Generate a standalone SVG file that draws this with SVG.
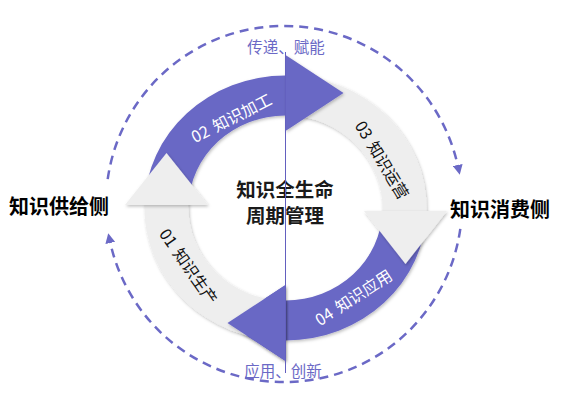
<svg xmlns="http://www.w3.org/2000/svg" xmlns:xlink="http://www.w3.org/1999/xlink" width="569" height="404" viewBox="0 0 569 404">
  <style>
    .purple { fill: #6967c5; }
    .gray { fill: #eeeeee; }
    .shadow { filter: url(#sh); }
    .arc-label { font-family: "Noto Sans CJK SC", "Liberation Sans", sans-serif; font-size: 16px; }
    .white { fill: #ffffff; }
    .dark { fill: #111111; }
    .center-title { font-family: "Noto Sans CJK SC", sans-serif; font-size: 19.5px; font-weight: bold; fill: #1a1a1a; }
    .side { font-family: "Noto Sans CJK SC", sans-serif; font-size: 20px; font-weight: bold; fill: #000000; }
    .flow-label { font-family: "Noto Sans CJK SC", sans-serif; font-size: 15.5px; fill: #6b69c6; }
    .dash { fill: none; stroke: #6b69c6; stroke-width: 2.5; stroke-dasharray: 9 6; }
  </style>
  <defs>
    <filter id="sh" x="-20%" y="-20%" width="140%" height="140%">
      <feDropShadow dx="1" dy="1.5" stdDeviation="1.5" flood-color="#000000" flood-opacity="0.25"/>
    </filter>
    <marker id="arr" viewBox="0 0 10 10" refX="2" refY="5" markerWidth="10" markerHeight="10" markerUnits="userSpaceOnUse" orient="auto">
      <path d="M0,0 L10,5 L0,10 Z" fill="#6b69c6"/>
    </marker>
  </defs>
  <rect width="569" height="404" fill="#ffffff"/>

  <g id="connectors">
    <path class="dash" d="M 107.7 179.2 A 178 178 0 0 1 458.1 167.0" marker-end="url(#arr)"/>
    <path class="dash" d="M 460.3 228.8 A 178 178 0 0 1 109.9 241.0" marker-end="url(#arr)"/>
  </g>

  <g id="node-04">
    <path class="purple shadow" d="M 426.5 211 A 141 132.5 0 0 1 285.5 340.5 L 285.5 300.5 A 97 92.5 0 0 0 382.5 211 Z"/>
    <polygon id="head04" class="purple shadow" points="285.5,285 227.5,323 285.5,361"/>
    <text class="arc-label white" text-anchor="middle" transform="translate(353.5,297.5) rotate(-33)" y="6">04<tspan dx="6">知识应用</tspan></text>
  </g>

  <g id="node-03">
    <path class="gray shadow" d="M 285.5 75.5 A 141 132.5 0 0 1 426.5 211 L 382.5 211 A 97 92.5 0 0 0 285.5 115.5 Z"/>
    <polygon class="gray shadow" points="364,211 447,211 405.5,264"/>
    <text class="arc-label dark" text-anchor="middle" transform="translate(382,160) rotate(59)" y="6">03<tspan dx="6">知识运营</tspan></text>
  </g>

  <g id="node-02">
    <path class="purple shadow" d="M 144.5 205 A 141 132.5 0 0 1 285.5 75.5 L 285.5 115.5 A 97 92.5 0 0 0 188.5 205 Z"/>
    <polygon class="purple shadow" points="285.5,55 343.5,93 285.5,131"/>
    <text class="arc-label white" text-anchor="middle" transform="translate(231.5,118) rotate(-27)" y="6">02<tspan dx="6">知识加工</tspan></text>
  </g>

  <g id="node-01">
    <path class="gray shadow" d="M 285.5 340.5 A 141 132.5 0 0 1 144.5 205 L 188.5 205 A 97 92.5 0 0 0 285.5 300.5 Z"/>
    <polygon class="gray shadow" points="125,205 208,205 166.5,153"/>
    <text class="arc-label dark" text-anchor="middle" transform="translate(188.5,266.5) rotate(55)" y="6">01<tspan dx="6">知识生产</tspan></text>
  </g>

  <g id="node-04-head-top">
    <use xlink:href="#head04" href="#head04"/>
  </g>

  <g id="center">
    <text class="center-title" text-anchor="middle"><tspan x="285" y="196.5">知识全生命</tspan><tspan x="285" y="222.5">周期管理</tspan></text>
  </g>

  <g id="divider">
    <line x1="285.5" y1="52" x2="285.5" y2="373" stroke="#6360bf" stroke-width="1"/>
  </g>

  <g id="supply">
    <text class="side" x="9" y="214">知识供给侧</text>
  </g>
  <g id="consume">
    <text class="side" x="450" y="216.5">知识消费侧</text>
  </g>
  <g id="flow-top">
    <text class="flow-label" x="286" y="52.5" text-anchor="middle">传递、赋能</text>
  </g>
  <g id="flow-bottom">
    <text class="flow-label" x="283" y="376.5" text-anchor="middle">应用、创新</text>
  </g>
</svg>
